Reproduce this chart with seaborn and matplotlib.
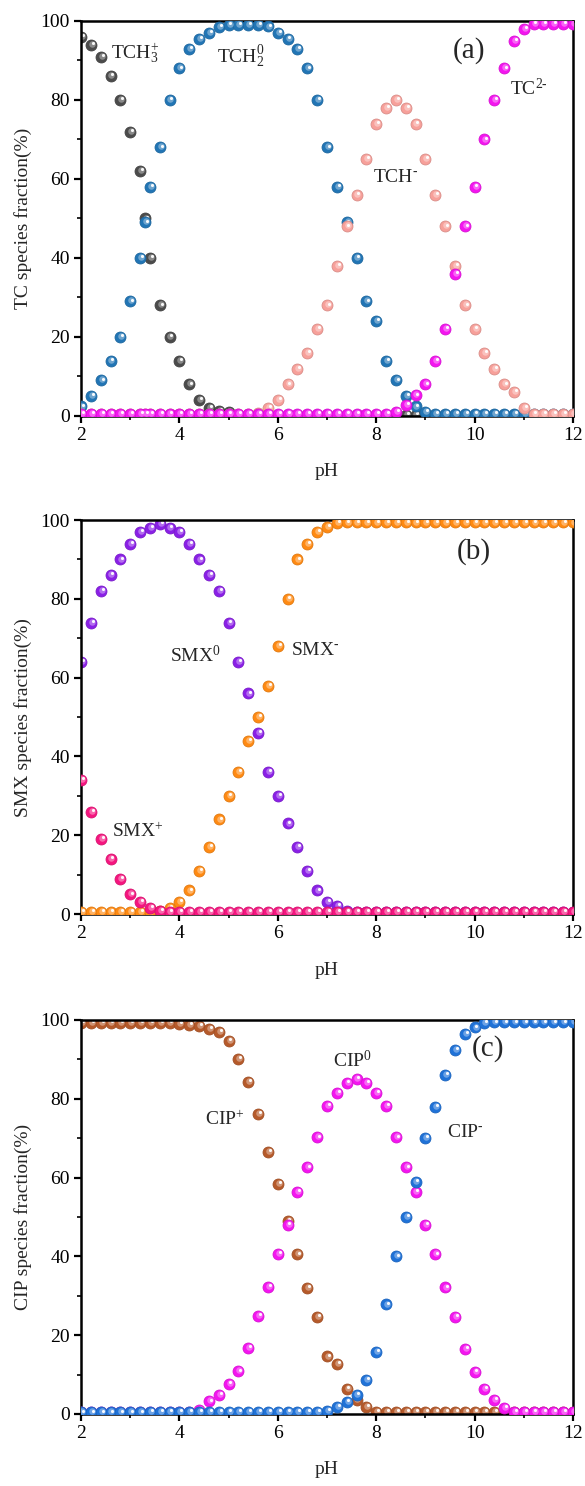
import numpy as np
import matplotlib
matplotlib.use("Agg")
import matplotlib.pyplot as plt
import matplotlib.transforms as mtransforms
from matplotlib.ticker import AutoMinorLocator, MultipleLocator
from matplotlib.colors import to_rgb
import seaborn as sns

# ---- data ----
ph = [2.0, 2.2, 2.4, 2.6, 2.8, 3.0, 3.2, 3.4, 3.6, 3.8, 4.0, 4.2, 4.4, 4.6, 4.8,
      5.0, 5.2, 5.4, 5.6, 5.8, 6.0, 6.2, 6.4, 6.6, 6.8, 7.0, 7.2, 7.4, 7.6, 7.8,
      8.0, 8.2, 8.4, 8.6, 8.8, 9.0, 9.2, 9.4, 9.6, 9.8, 10.0, 10.2, 10.4, 10.6,
      10.8, 11.0, 11.2, 11.4, 11.6, 11.8, 12.0]

# TC panel has one extra point at pH 3.3
ph_tc = [2.0, 2.2, 2.4, 2.6, 2.8, 3.0, 3.2, 3.3, 3.4, 3.6, 3.8, 4.0, 4.2, 4.4, 4.6,
         4.8, 5.0, 5.2, 5.4, 5.6, 5.8, 6.0, 6.2, 6.4, 6.6, 6.8, 7.0, 7.2, 7.4, 7.6,
         7.8, 8.0, 8.2, 8.4, 8.6, 8.8, 9.0, 9.2, 9.4, 9.6, 9.8, 10.0, 10.2, 10.4,
         10.6, 10.8, 11.0, 11.2, 11.4, 11.6, 11.8, 12.0]

tch3 = [96, 94, 91, 86, 80, 72, 62, 50, 40, 28, 20, 14, 8, 4, 2, 1.3, 1,
        0.2, 0.2, 0.2, 0.2, 0.2, 0.2, 0.2, 0.2, 0.2, 0.2, 0.2, 0.2, 0.2, 0.2, 0.2,
        0.2, 0.2, 0.2, 0.2, 0.2, 0.2, 0.2, 0.2, 0.2, 0.2, 0.2, 0.2, 0.2, 0.2, 0.2,
        0.2, 0.2, 0.2, 0.2, 0.2]
tch2 = [2.4, 5, 9, 14, 20, 29, 40, 49, 58, 68, 80, 88, 93, 95.5, 97, 98.4, 99,
        99, 99, 99, 98.6, 97, 95.5, 93, 88, 80, 68, 58, 49, 40, 29, 24, 14, 9, 5,
        2.4, 1, 0.5, 0.5, 0.5, 0.5, 0.5, 0.5, 0.5, 0.5, 0.5, 0.5, 0.5, 0.5, 0.5,
        0.5, 0.5]
tch = [0.5, 0.5, 0.5, 0.5, 0.5, 0.5, 0.5, 0.5, 0.5, 0.5, 0.5, 0.5, 0.5, 0.5, 0.5,
       0.5, 0.5, 0.5, 0.5, 0.8, 2, 4, 8, 12, 16, 22, 28, 38, 48, 56, 65, 74, 78,
       80, 78, 74, 65, 56, 48, 38, 28, 22, 16, 12, 8, 6, 2, 0.5, 0.5, 0.5, 0.5, 0.5]
tc2 = [0.6, 0.6, 0.6, 0.6, 0.6, 0.6, 0.6, 0.6, 0.6, 0.6, 0.6, 0.6, 0.6, 0.6, 0.6,
       0.6, 0.6, 0.6, 0.6, 0.6, 0.6, 0.6, 0.6, 0.6, 0.6, 0.6, 0.6, 0.6, 0.6, 0.6,
       0.6, 0.6, 0.6, 1, 2.8, 5.2, 8, 14, 22, 36, 48, 58, 70, 80, 88, 95, 98,
       99.3, 99.3, 99.3, 99.3, 99.3]

smx0 = [64, 74, 82, 86, 90, 94, 97, 98, 99, 98, 97, 94, 90, 86, 82, 74, 64, 56,
        46, 36, 30, 23, 17, 11, 6, 3, 2, 0.8, 0.5, 0.5, 0.5, 0.5, 0.5, 0.5, 0.5,
        0.5, 0.5, 0.5, 0.5, 0.5, 0.5, 0.5, 0.5, 0.5, 0.5, 0.5, 0.5, 0.5, 0.5, 0.5, 0.5]
smx_neg = [0.5, 0.5, 0.5, 0.5, 0.5, 0.5, 0.5, 0.5, 0.8, 1.5, 3, 6, 11, 17, 24,
           30, 36, 44, 50, 58, 68, 80, 90, 94, 97, 98.3, 99.3, 99.4, 99.4, 99.4,
           99.4, 99.4, 99.4, 99.4, 99.4, 99.4, 99.4, 99.4, 99.4, 99.4, 99.4, 99.4,
           99.4, 99.4, 99.4, 99.4, 99.4, 99.4, 99.4, 99.4, 99.4]
smx_pos = [34, 26, 19, 14, 9, 5, 3, 1.5, 0.8, 0.6, 0.6, 0.6, 0.6, 0.6, 0.6, 0.6,
           0.6, 0.6, 0.6, 0.6, 0.6, 0.6, 0.6, 0.6, 0.6, 0.6, 0.6, 0.6, 0.6, 0.6,
           0.6, 0.6, 0.6, 0.6, 0.6, 0.6, 0.6, 0.6, 0.6, 0.6, 0.6, 0.6, 0.6, 0.6,
           0.6, 0.6, 0.6, 0.6, 0.6, 0.6, 0.6]

cip_pos = [99.3, 99.3, 99.3, 99.3, 99.3, 99.3, 99.3, 99.3, 99.3, 99.3, 99, 98.7,
           98.4, 97.8, 97, 94.6, 90.2, 84.2, 76.2, 66.6, 58.4, 49, 40.5, 32, 24.6,
           14.6, 12.6, 6.4, 3.5, 1.8, 0.5, 0.5, 0.5, 0.5, 0.5, 0.5, 0.5, 0.5, 0.5,
           0.5, 0.5, 0.5, 0.5, 0.5, 0.5, 0.5, 0.5, 0.5, 0.5, 0.5, 0.5]
cip0 = [0.4, 0.4, 0.4, 0.4, 0.4, 0.4, 0.4, 0.4, 0.4, 0.4, 0.4, 0.4, 1, 3.2, 4.9,
        7.6, 10.8, 16.8, 24.8, 32.2, 40.7, 48, 56.4, 62.6, 70.2, 78.2, 81.4, 84,
        85, 84, 81.4, 78.2, 70.2, 62.6, 56.4, 48, 40.5, 32.1, 24.6, 16.6, 10.6,
        6.4, 3.6, 1.5, 0.5, 0.5, 0.5, 0.5, 0.5, 0.5, 0.5]
cip_neg = [0.4, 0.4, 0.4, 0.4, 0.4, 0.4, 0.4, 0.6, 0.6, 0.6, 0.6, 0.6, 0.6, 0.6,
           0.6, 0.6, 0.6, 0.6, 0.6, 0.6, 0.6, 0.6, 0.6, 0.6, 0.6, 0.8, 1.8, 3,
           4.9, 8.7, 15.8, 27.8, 40, 50, 59, 70, 78, 86, 92.4, 96.5, 98.1, 99.3,
           99.4, 99.4, 99.4, 99.4, 99.4, 99.4, 99.4, 99.4, 99.4]

# ---- style ----
sns.set_style("ticks")
plt.rcParams["font.family"] = ["Liberation Serif", "DejaVu Serif"]
plt.rcParams["mathtext.fontset"] = "custom"
plt.rcParams["mathtext.rm"] = "Liberation Serif"
plt.rcParams["mathtext.it"] = "Liberation Serif:italic"

fig = plt.figure(figsize=(5.85, 14.86), dpi=100)


def lighten(c, f):
    r, g, b = to_rgb(c)
    return (r + (1 - r) * f, g + (1 - g) * f, b + (1 - b) * f)


def darken(c, f):
    r, g, b = to_rgb(c)
    return (r * (1 - f), g * (1 - f), b * (1 - f))


def balls(ax, x, y, color, z):
    # shaded sphere look: dark rim, base, soft light, white glint
    sns.scatterplot(x=x, y=y, ax=ax, s=62, color=color, edgecolor=darken(color, 0.12),
                    linewidth=0.6, legend=False, zorder=z)
    off1 = mtransforms.offset_copy(ax.transData, fig=fig, x=0.9, y=0.9, units="dots")
    sns.scatterplot(x=x, y=y, ax=ax, s=22, color=lighten(color, 0.35), linewidth=0,
                    legend=False, zorder=z + 0.1, transform=off1)
    off2 = mtransforms.offset_copy(ax.transData, fig=fig, x=1.8, y=1.8, units="dots")
    sns.scatterplot(x=x, y=y, ax=ax, s=5, color="white", linewidth=0, alpha=0.95,
                    legend=False, zorder=z + 0.2, transform=off2)


def style_axes(ax, ylabel):
    ax.set_xlim(2, 12)
    ax.set_ylim(0, 100)
    ax.xaxis.set_major_locator(MultipleLocator(2))
    ax.yaxis.set_major_locator(MultipleLocator(20))
    ax.xaxis.set_minor_locator(AutoMinorLocator(2))
    ax.yaxis.set_minor_locator(AutoMinorLocator(2))
    ax.tick_params(which="major", direction="out", length=5, width=1.6, labelsize=14,
                   colors="black", pad=3)
    ax.tick_params(which="minor", direction="out", length=3, width=1.4)
    for sp in ax.spines.values():
        sp.set_linewidth(1.8)
        sp.set_color("black")
    ax.set_xlabel("pH", fontsize=14, labelpad=14)
    ax.set_ylabel(ylabel, fontsize=14, labelpad=6)


ax1 = fig.add_axes([0.1385, 0.7201, 0.841, 0.2658])
ax2 = fig.add_axes([0.1385, 0.3849, 0.841, 0.2651])
ax3 = fig.add_axes([0.1385, 0.0485, 0.841, 0.2651])

# (a) TC
balls(ax1, ph_tc, tch3, "#4b4b4b", 2)
balls(ax1, ph_tc, tch2, "#2175b5", 3)
balls(ax1, ph_tc, tch, "#f7a09a", 4)
balls(ax1, ph_tc, tc2, "#f414f0", 5)
style_axes(ax1, "TC species fraction(%)")
ax1.text(2.6, 92, r"TCH$_\mathrm{3}^\mathrm{+}$", fontsize=14, va="center")
ax1.text(4.76, 91, r"TCH$_\mathrm{2}^\mathrm{0}$", fontsize=14, va="center")
ax1.text(7.93, 60.4, r"TCH$^{\text{-}}$", fontsize=14, va="center")
ax1.text(10.72, 82.8, r"TC$^{\text{2-}}$", fontsize=14, va="center")
ax1.text(9.88, 92.4, "(a)", fontsize=21, ha="center", va="center")

# (b) SMX
balls(ax2, ph, smx0, "#8a1fe6", 2)
balls(ax2, ph, smx_neg, "#ff8a12", 3)
balls(ax2, ph, smx_pos, "#f5157f", 4)
style_axes(ax2, "SMX species fraction(%)")
ax2.text(3.8, 65.6, r"SMX$^\mathrm{0}$", fontsize=14, va="center")
ax2.text(6.27, 67, r"SMX$^{\text{-}}$", fontsize=14, va="center")
ax2.text(2.63, 20.8, r"SMX$^\mathrm{+}$", fontsize=14, va="center")
ax2.text(9.99, 91.9, "(b)", fontsize=21, ha="center", va="center")

# (c) CIP
balls(ax3, ph, cip_pos, "#b65a2a", 2)
balls(ax3, ph, cip0, "#f414f0", 3)
balls(ax3, ph, cip_neg, "#1f72d8", 4)
style_axes(ax3, "CIP species fraction(%)")
ax3.text(4.52, 74.6, r"CIP$^\mathrm{+}$", fontsize=14, va="center")
ax3.text(7.12, 89.6, r"CIP$^\mathrm{0}$", fontsize=14, va="center")
ax3.text(9.44, 71.5, r"CIP$^{\text{-}}$", fontsize=14, va="center")
ax3.text(10.28, 92.7, "(c)", fontsize=21, ha="center", va="center")

fig.savefig("out.png", dpi=100, facecolor="white")
